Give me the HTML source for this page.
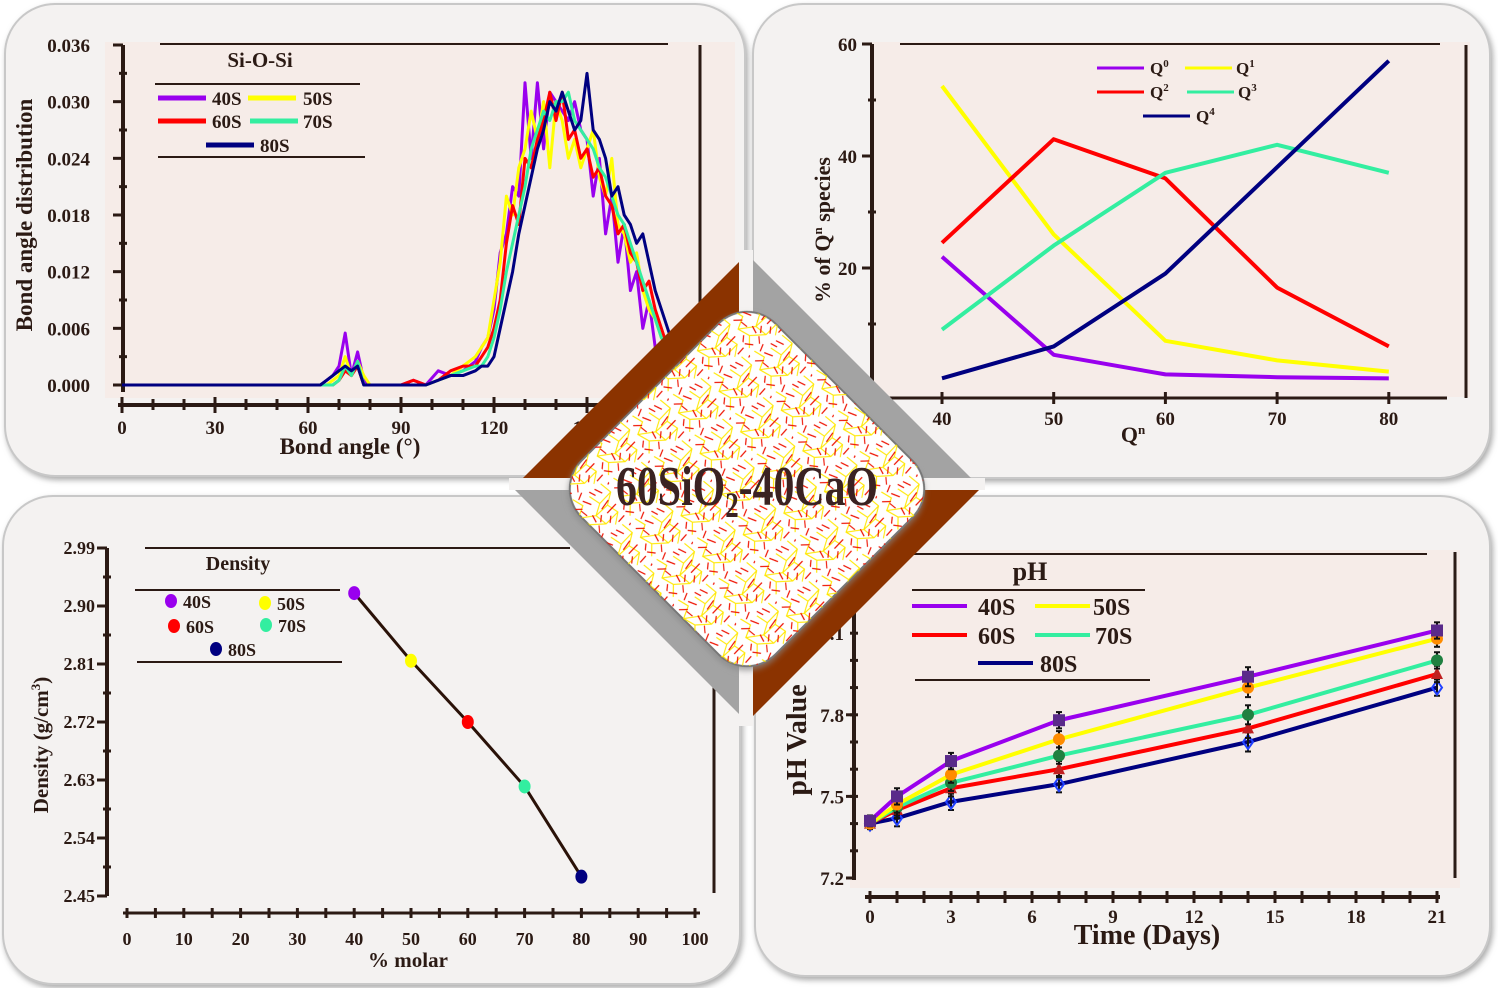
<!DOCTYPE html>
<html><head><meta charset="utf-8"><style>
html,body{margin:0;padding:0;background:#fff;}
svg text{font-family:"Liberation Serif",serif;font-weight:bold;fill:#2b1a14;}
</style></head><body>
<svg id="s" width="1498" height="988" viewBox="0 0 1498 988" xmlns="http://www.w3.org/2000/svg">
<defs>
<filter id="sh" x="-5%" y="-5%" width="110%" height="110%"><feDropShadow dx="2" dy="3" stdDeviation="3" flood-color="#888" flood-opacity="0.7"/></filter>
<pattern id="net" width="46" height="46" patternUnits="userSpaceOnUse" patternTransform="rotate(17)">
<path d="M2 8 L14 3 L24 12 L35 6 L45 14 M8 24 L19 18 L28 27 L40 22 M3 40 L13 34 L22 44 L33 37 L44 43 M14 3 L19 18 M24 12 L28 27 L22 44 M35 6 L40 22 L33 37" stroke="#ffe800" stroke-width="1.1" fill="none"/>
<path d="M4 16 L11 11 M16 26 L9 32 M27 4 L31 16 M38 29 L45 32 M17 38 L24 35 M41 2 L44 10 M1 29 L6 35 M30 42 L36 46 M20 9 L25 19 M35 14 L41 18 M6 2 L2 -4 M12 44 L16 36 M26 30 L34 30 M43 38 L38 45 M10 18 L4 22 M30 22 L36 26" stroke="#ee1100" stroke-width="1.2" fill="none"/>
</pattern>
</defs>
<g id="panels">
<rect x="5" y="4" width="740" height="472" rx="50" fill="#f4f2f1" stroke="#c8c8c8" stroke-width="2" filter="url(#sh)"/>
<rect x="753" y="4" width="737" height="474" rx="50" fill="#f4f2f1" stroke="#c8c8c8" stroke-width="2" filter="url(#sh)"/>
<rect x="3" y="496" width="737" height="488" rx="50" fill="#f4f2f1" stroke="#c8c8c8" stroke-width="2" filter="url(#sh)"/>
<rect x="755" y="496" width="735" height="480" rx="50" fill="#f4f2f1" stroke="#c8c8c8" stroke-width="2" filter="url(#sh)"/>
<rect x="105" y="42" width="630" height="356" fill="#f6ece8"/>
<rect x="870" y="42" width="600" height="355" fill="#f6ece8"/>
<rect x="850" y="550" width="610" height="338" fill="#f6ece8"/>
</g>
<g id="charts"></g>
<g id="center">
<polygon points="513,488 747,254 747,488" fill="#8b3300"/>
<polygon points="747,254 981,488 747,488" fill="#a3a3a3"/>
<polygon points="513,488 747,722 747,488" fill="#a3a3a3"/>
<polygon points="981,488 747,722 747,488" fill="#8b3300"/>
<rect x="739" y="250" width="14" height="476" fill="#f4f2f1"/>
<rect x="509" y="478" width="476" height="12" fill="#f4f2f1"/>
<rect x="610" y="352" width="274" height="274" rx="40" transform="rotate(45 747 489)" fill="#fff" stroke="#777" stroke-width="2" filter="url(#sh)"/>
<rect x="610" y="352" width="274" height="274" rx="40" transform="rotate(45 747 489)" fill="url(#net)"/>
<text x="747" y="505" text-anchor="middle" font-size="56" textLength="262" lengthAdjust="spacingAndGlyphs" style="fill:#3a2222">60SiO<tspan font-size="36" dy="12">2</tspan><tspan dy="-12">-40CaO</tspan></text>
</g>
</svg>
<script>
// ---------- Bond angle data ----------
const baAngles=[0,60,64,66,68,70,72,74,76,78,80,84,90,94,98,102,106,110,114,116,118,120,122,124,126,128,130,132,134,136,138,140,142,144,146,148,150,152,154,156,158,160,162,164,166,168,170,172,174,176,178,180];
const ba40=[0,0,0,0.0005,0.001,0.002,0.0055,0.001,0.0035,0.0005,0,0,0,0.0005,0,0.0015,0.001,0.0015,0.0025,0.004,0.005,0.008,0.014,0.016,0.021,0.020,0.032,0.024,0.032,0.025,0.031,0.030,0.029,0.028,0.030,0.027,0.026,0.020,0.024,0.016,0.020,0.013,0.017,0.010,0.012,0.006,0.009,0.004,0.003,0.002,0.001,0];
const ba50=[0,0,0,0,0.0005,0.001,0.003,0.001,0.0025,0.001,0,0,0,0,0,0.0005,0.001,0.002,0.003,0.004,0.005,0.009,0.013,0.020,0.018,0.023,0.025,0.029,0.026,0.030,0.023,0.030,0.028,0.024,0.026,0.023,0.025,0.027,0.022,0.020,0.024,0.017,0.016,0.013,0.014,0.010,0.008,0.007,0.005,0.004,0.002,0.001];
const ba60=[0,0,0,0,0,0.0005,0.0015,0.001,0.002,0,0,0,0,0.0005,0,0.0005,0.0015,0.002,0.002,0.003,0.004,0.006,0.009,0.015,0.019,0.017,0.024,0.023,0.026,0.028,0.031,0.028,0.031,0.026,0.027,0.024,0.025,0.022,0.023,0.020,0.019,0.016,0.017,0.014,0.013,0.010,0.011,0.008,0.006,0.004,0.003,0.001];
const ba70=[0,0,0,0,0,0.0005,0.002,0.001,0.0025,0,0,0,0,0,0,0.0005,0.001,0.0015,0.002,0.002,0.003,0.005,0.008,0.012,0.015,0.018,0.021,0.025,0.027,0.029,0.028,0.030,0.030,0.031,0.028,0.027,0.026,0.025,0.023,0.022,0.020,0.018,0.017,0.015,0.013,0.011,0.009,0.007,0.005,0.004,0.003,0.001];
const ba80=[0,0,0,0.0005,0.001,0.0015,0.002,0.0015,0.002,0,0,0,0,0,0,0.0005,0.001,0.001,0.0015,0.002,0.002,0.003,0.006,0.009,0.012,0.016,0.019,0.022,0.025,0.027,0.030,0.029,0.031,0.029,0.027,0.028,0.033,0.027,0.026,0.024,0.020,0.021,0.018,0.017,0.015,0.016,0.013,0.010,0.008,0.006,0.004,0.002];
const baX=[0,30,60,90,120,150];
const baY=[0,0.006,0.012,0.018,0.024,0.030,0.036];
// ---------- Qn data ----------
const qComp=[40,50,60,70,80];
const q0=[22,4.5,1,0.5,0.3];
const q1=[52.5,26,7,3.5,1.5];
const q2=[24.5,43,36,16.5,6];
const q3=[9,24,37,42,37];
const q4=[0.3,6,19,38,57];
const qYt=[20,40,60];
// ---------- Density ----------
const dComp=[40,50,60,70,80];
const dVal=[2.92,2.815,2.72,2.62,2.48];
const dYt=[2.45,2.54,2.63,2.72,2.81,2.90,2.99];
const dXt=[0,10,20,30,40,50,60,70,80,90,100];
// ---------- pH ----------
const phDays=[0,1,3,7,14,21];
const ph40=[7.41,7.50,7.63,7.78,7.94,8.11];
const ph50=[7.40,7.47,7.58,7.71,7.90,8.08];
const ph60=[7.40,7.45,7.53,7.60,7.75,7.95];
const ph70=[7.40,7.46,7.55,7.65,7.80,8.00];
const ph80=[7.40,7.42,7.48,7.545,7.70,7.90];
const phErr=[0.02,0.03,0.03,0.03,0.035,0.03];
const phYt=[7.2,7.5,7.8];
const phXt=[0,3,6,9,12,15,18,21];

const C={p:"#9900ee",y:"#ffff00",r:"#ff0000",g:"#33eea0",n:"#000080"};
const NS="http://www.w3.org/2000/svg";
const G=document.getElementById('charts');
function mk(tag,at,parent){const e=document.createElementNS(NS,tag);for(const k in at)e.setAttribute(k,at[k]);(parent||G).appendChild(e);return e;}
function txt(x,y,s,size,anchor,parent){const t=mk('text',{x:x,y:y,'font-size':size,'text-anchor':anchor||'middle'},parent);t.textContent=s;return t;}
function line(x1,y1,x2,y2,col,w,parent){return mk('line',{x1:x1,y1:y1,x2:x2,y2:y2,stroke:col||'#2b1a14','stroke-width':w||2},parent);}
function poly(xs,ys,sx,sy,col,w,parent){return mk('polyline',{points:xs.map((v,i)=>sx(v)+','+sy(ys[i])).join(' '),fill:'none',stroke:col,'stroke-width':w,'stroke-linejoin':'round'},parent);}
const AX='#2b1a14';

// ===== Bond angle chart =====
{
const g=mk('g',{});


const sx=a=>122+a*3.1, sy=v=>385-v/0.036*340;
line(123,45,123,392,AX,4,g);line(118,405,680,405,AX,4,g);
line(160,44,668,44,AX,2,g);line(700,45,700,380,AX,3,g);
baY.forEach(v=>{line(113,sy(v),123,sy(v),AX,3,g);const t=txt(90,sy(v)+7,v.toFixed(3),19,'end',g);});
for(let v=0.003;v<0.036;v+=0.006){line(119,sy(v),127,sy(v),AX,3,g);}
for(let a=0;a<=180;a+=10){line(sx(a),399,sx(a),410,AX,3,g);}
baX.forEach(a=>{line(sx(a),397,sx(a),413,AX,3,g);const t=txt(sx(a),434,String(a),19,'middle',g);});
const xt=txt(350,454,'Bond angle (°)',23,'middle',g);
const yt=txt(0,0,'Bond angle distribution',23,'middle',g);yt.setAttribute('transform','translate(32 215) rotate(-90)');
[[ba40,C.p,'series-40s'],[ba50,C.y,'series-50s'],[ba60,C.r,'series-60s'],[ba70,C.g,'series-70s'],[ba80,C.n,'series-80s']].forEach(([d,c,n])=>{
const p=poly(baAngles,d,sx,sy,c,3,g);});
txt(260,67,'Si-O-Si',21,'middle',g);
line(155,84,360,84,AX,2,g);line(158,157,365,157,AX,2,g);
[[158,98,C.p,'40S',212],[248,98,C.y,'50S',303],[158,121,C.r,'60S',212],[250,121,C.g,'70S',303],[206,145,C.n,'80S',260]].forEach(([x,y,c,l,lx])=>{
const lg=mk('g',{},g);
line(x,y,x+48,y,c,5,lg);txt(lx,y+7,l,19,'start',lg);});
}

// ===== Qn chart =====
{
const g=mk('g',{});


const sx=v=>942+(v-40)*11.17, sy=v=>380-v*5.6;
line(872,44,872,398,AX,4,g);line(872,398,1447,398,AX,3,g);
line(900,44,1440,44,AX,2,g);line(1466,45,1466,398,AX,3,g);
qYt.forEach(v=>{line(862,sy(v),872,sy(v),AX,3,g);const t=txt(857,sy(v)+7,String(v),19,'end',g);});
for(let v=10;v<60;v+=20){line(868,sy(v),876,sy(v),AX,3,g);}
qComp.forEach(v=>{line(sx(v),392,sx(v),404,AX,3,g);const t=txt(sx(v),425,String(v),19,'middle',g);});
const xt=txt(1133,442,'Q',22,'middle',g);const ts=mk('tspan',{dy:-8,'font-size':13},xt);ts.textContent='n';
const yt=txt(0,0,'% of Q',22,'middle',g);const ys=mk('tspan',{dy:-8,'font-size':13},yt);ys.textContent='n';const ys2=mk('tspan',{dy:8},yt);ys2.textContent=' species';
yt.setAttribute('transform','translate(830 230) rotate(-90)');
[[q0,C.p,'series-q0'],[q1,C.y,'series-q1'],[q2,C.r,'series-q2'],[q3,C.g,'series-q3'],[q4,C.n,'series-q4']].forEach(([d,c,n])=>{
const p=poly(qComp,d,sx,sy,c,4,g);});
[[1097,68,C.p,'0',1150],[1185,68,C.y,'1',1236],[1097,92,C.r,'2',1150],[1187,92,C.g,'3',1238],[1143,116,C.n,'4',1196]].forEach(([x,y,c,l,lx])=>{
const lg=mk('g',{},g);
line(x,y,x+47,y,c,3,lg);const t=txt(lx,y+6,'Q',17,'start',lg);const s=mk('tspan',{dy:-7,'font-size':11},t);s.textContent=l;});
}

// ===== Density chart =====
{
const g=mk('g',{});


const sx=v=>127+v*5.68, sy=v=>896-(v-2.45)/0.54*348;
line(107,548,107,896,AX,4,g);line(123,913,700,913,AX,3,g);
line(145,548,570,548,AX,2,g);line(714,560,714,893,AX,3,g);
dYt.forEach(v=>{line(97,sy(v),107,sy(v),AX,3,g);const t=txt(95,sy(v)+6,v.toFixed(2),18,'end',g);});
for(let v=2.495;v<2.99;v+=0.09){line(103,sy(v),111,sy(v),AX,3,g);}
for(let v=0;v<=100;v+=5){line(sx(v),908,sx(v),918,AX,3,g);}
dXt.forEach(v=>{const t=txt(sx(v),945,String(v),18,'middle',g);});
const xt=txt(408,967,'% molar',21,'middle',g);
const yt=txt(0,0,'Density (g/cm',21,'middle',g);const s=mk('tspan',{dy:-8,'font-size':13},yt);s.textContent='3';const s2=mk('tspan',{dy:8},yt);s2.textContent=')';
yt.setAttribute('transform','translate(48 745) rotate(-90)');
const p=poly(dComp,dVal,sx,sy,'#2a1208',3,g);
const cols=[C.p,C.y,C.r,C.g,C.n];
dComp.forEach((v,i)=>{const c=mk('ellipse',{cx:sx(v),cy:sy(dVal[i]),rx:6,ry:7,fill:cols[i]},g);});
txt(238,570,'Density',20,'middle',g);
line(135,590,340,590,AX,2,g);line(137,662,342,662,AX,2,g);
[[171,601,C.p,'40S'],[265,603,C.y,'50S'],[174,626,C.r,'60S'],[266,625,C.g,'70S'],[216,649,C.n,'80S']].forEach(([x,y,c,l])=>{
const lg=mk('g',{},g);
mk('ellipse',{cx:x,cy:y,rx:6,ry:7,fill:c},lg);txt(x+12,y+7,l,18,'start',lg);});
}

// ===== pH chart =====
{
const g=mk('g',{});


const sx=v=>870+v*27, sy=v=>878-(v-7.2)/0.1*27.2;
line(854,560,854,880,AX,4,g);line(865,897,1440,897,AX,4,g);
line(865,554,1427,554,AX,2,g);line(1455,552,1455,878,AX,3,g);
phYt.forEach(v=>{line(846,sy(v),856,sy(v),AX,3,g);const t=txt(844,sy(v)+7,v.toFixed(1),19,'end',g);});
for(let v=7.3;v<8.2;v+=0.1){line(850,sy(v),858,sy(v),AX,3,g);}
txt(844,sy(8.1)+7,'8.1',19,'end',g);
for(let d=0;d<=21;d++){line(sx(d),891,sx(d),903,AX,3,g);}
phXt.forEach(d=>{const t=txt(sx(d),923,String(d),19,'middle',g);});
const xt=txt(1147,944,'Time (Days)',28,'middle',g);
const yt=txt(0,0,'pH Value',28,'middle',g);yt.setAttribute('transform','translate(806 740) rotate(-90)');
const sets=[[ph80,C.n,'series-80s','#2040ff','d'],[ph60,C.r,'series-60s','#c02020','t'],[ph70,C.g,'series-70s','#208040','c'],[ph50,C.y,'series-50s','#ff8c00','c'],[ph40,C.p,'series-40s','#5a2a8a','s']];
sets.forEach(([d,c,n,mc,m])=>{
const p=poly(phDays,d,sx,sy,c,4,g);
phDays.forEach((day,i)=>{const x=sx(day),y=sy(d[i]),e=phErr[i]/0.1*27.2;
line(x,y-e,x,y+e,'#111',2,g);line(x-3,y-e,x+3,y-e,'#111',2,g);line(x-3,y+e,x+3,y+e,'#111',2,g);
let mkr;
if(m==='s')mkr=mk('rect',{x:x-6,y:y-6,width:12,height:12,fill:mc},g);
else if(m==='c')mkr=mk('circle',{cx:x,cy:y,r:6,fill:mc},g);
else if(m==='t')mkr=mk('polygon',{points:`${x},${y-7} ${x+6},${y+5} ${x-6},${y+5}`,fill:mc},g);
else mkr=mk('polygon',{points:`${x},${y-7} ${x+5},${y} ${x},${y+7} ${x-5},${y}`,fill:'none',stroke:mc,'stroke-width':2},g);


});});
txt(1030,580,'pH',26,'middle',g);
line(912,590,1145,590,AX,2,g);line(915,680,1150,680,AX,2,g);
[[912,606,C.p,'40S',978],[1035,606,C.y,'50S',1093],[912,635,C.r,'60S',978],[1035,635,C.g,'70S',1095],[978,663,C.n,'80S',1040]].forEach(([x,y,c,l,lx])=>{
const lg=mk('g',{},g);
line(x,y,x+55,y,c,4,lg);txt(lx,y+9,l,24,'start',lg);});
}
</script>
</body></html>
